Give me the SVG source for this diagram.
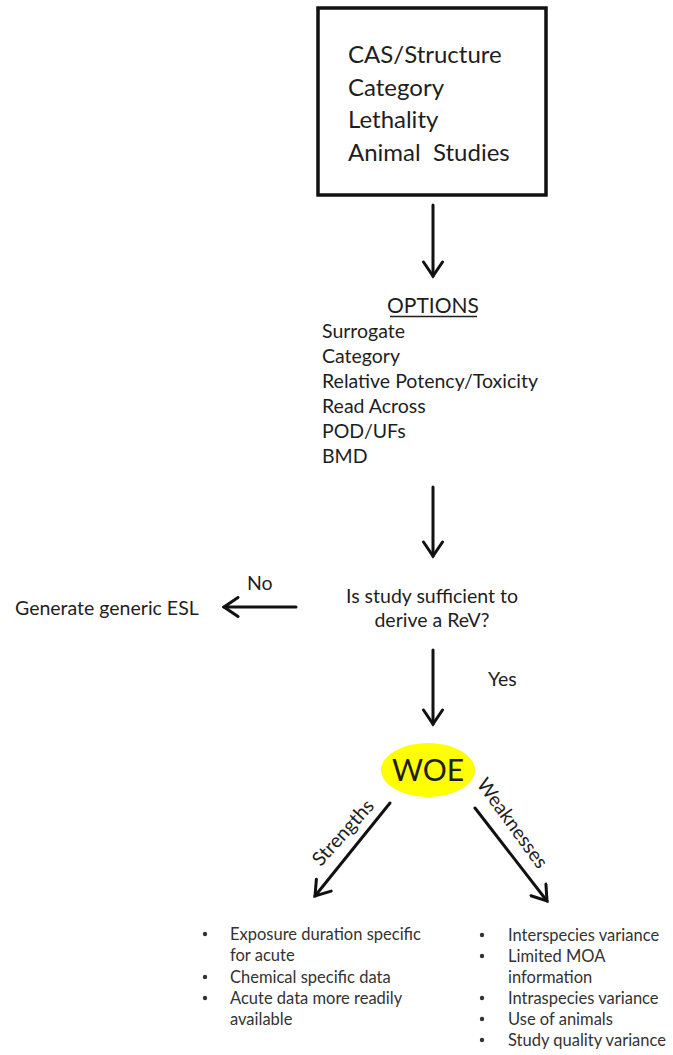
<svg xmlns="http://www.w3.org/2000/svg" width="673" height="1055" viewBox="0 0 673 1055">
  <defs>
    <style>
      text { font-family: Lato, "Liberation Sans", sans-serif; fill: #1e1e1e; }
      .box { font-size: 24px; }
      .opt { font-size: 19.5px; }
      .mid { font-size: 19.5px; }
      .bul { font-size: 16.5px; fill: #333; }
      .frame { fill: #fff; stroke: #111; stroke-width: 3.5; }
      .arrow { stroke: #111; stroke-width: 3; fill: none; stroke-linecap: round; }
      .dot { fill: #333; }
    </style>
    <marker id="head" viewBox="0 0 20 22" refX="17.5" refY="11" markerWidth="20" markerHeight="22" orient="auto" markerUnits="userSpaceOnUse">
      <path d="M3.5,1.5 L17.5,11 L3.5,20.5" fill="none" stroke="#111" stroke-width="3" stroke-linecap="round" stroke-linejoin="miter"/>
    </marker>
  </defs>

  <rect width="673" height="1055" fill="#fff"/>

  <!-- input data box -->
  <g id="inputs">
    <rect class="frame" x="318" y="8" width="228" height="187"/>
    <text class="box" x="348" y="63">CAS/Structure</text>
    <text class="box" x="348" y="95.5">Category</text>
    <text class="box" x="348" y="128">Lethality</text>
    <text class="box" x="348" y="160.5" style="white-space:pre">Animal  Studies</text>
  </g>

  <!-- derivation options -->
  <g id="options">
    <text class="opt" x="433" y="313" text-anchor="middle" style="font-size:21px">OPTIONS</text>
    <line x1="390" y1="316.5" x2="477" y2="316.5" stroke="#1e1e1e" stroke-width="1.4"/>
    <text class="opt" x="322" y="338">Surrogate</text>
    <text class="opt" x="322" y="363">Category</text>
    <text class="opt" x="322" y="388">Relative Potency/Toxicity</text>
    <text class="opt" x="322" y="413">Read Across</text>
    <text class="opt" x="322" y="438">POD/UFs</text>
    <text class="opt" x="322" y="463">BMD</text>
  </g>

  <!-- decision -->
  <g id="decision">
    <text class="mid" x="432" y="603" text-anchor="middle">Is study sufficient to</text>
    <text class="mid" x="432" y="627" text-anchor="middle">derive a ReV?</text>
  </g>

  <g id="generic-esl">
    <text class="mid" x="15" y="615">Generate generic ESL</text>
  </g>

  <!-- weight of evidence -->
  <g id="woe">
    <ellipse cx="428" cy="770" rx="47" ry="27" fill="#ffff00"/>
    <text x="428" y="781" text-anchor="middle" style="font-size:30px">WOE</text>
  </g>

  <g id="strengths-list">
    <circle class="dot" cx="205" cy="934" r="2.2"/>
    <text class="bul" x="230" y="940">Exposure duration specific</text>
    <text class="bul" x="230" y="961">for acute</text>
    <circle class="dot" cx="205" cy="977" r="2.2"/>
    <text class="bul" x="230" y="983">Chemical specific data</text>
    <circle class="dot" cx="205" cy="998" r="2.2"/>
    <text class="bul" x="230" y="1004">Acute data more readily</text>
    <text class="bul" x="230" y="1025">available</text>
  </g>

  <g id="weaknesses-list">
    <circle class="dot" cx="482" cy="935" r="2.2"/>
    <text class="bul" x="508" y="941">Interspecies variance</text>
    <circle class="dot" cx="482" cy="956" r="2.2"/>
    <text class="bul" x="508" y="962">Limited MOA</text>
    <text class="bul" x="508" y="983">information</text>
    <circle class="dot" cx="482" cy="998" r="2.2"/>
    <text class="bul" x="508" y="1004">Intraspecies variance</text>
    <circle class="dot" cx="482" cy="1019" r="2.2"/>
    <text class="bul" x="508" y="1025">Use of animals</text>
    <circle class="dot" cx="482" cy="1040" r="2.2"/>
    <text class="bul" x="508" y="1046">Study quality variance</text>
  </g>

  <!-- connectors -->
  <g id="connectors">
    <path class="arrow" d="M433,205 L433,276" marker-end="url(#head)"/>
    <path class="arrow" d="M433,487 L433,556" marker-end="url(#head)"/>
    <path class="arrow" d="M433,650 L433,724" marker-end="url(#head)"/>
    <path class="arrow" d="M296,607 L224,607" marker-end="url(#head)"/>
    <path class="arrow" d="M390,803 L315,896" marker-end="url(#head)"/>
    <path class="arrow" d="M475,808 L547,901" marker-end="url(#head)"/>
    <text class="mid" x="247" y="590">No</text>
    <text class="mid" x="488" y="686">Yes</text>
    <text class="mid" x="0" y="0" text-anchor="middle" transform="translate(348,837) rotate(-48)">Strengths</text>
    <text class="mid" x="0" y="0" text-anchor="middle" transform="translate(507,827) rotate(54)">Weaknesses</text>
  </g>
</svg>
